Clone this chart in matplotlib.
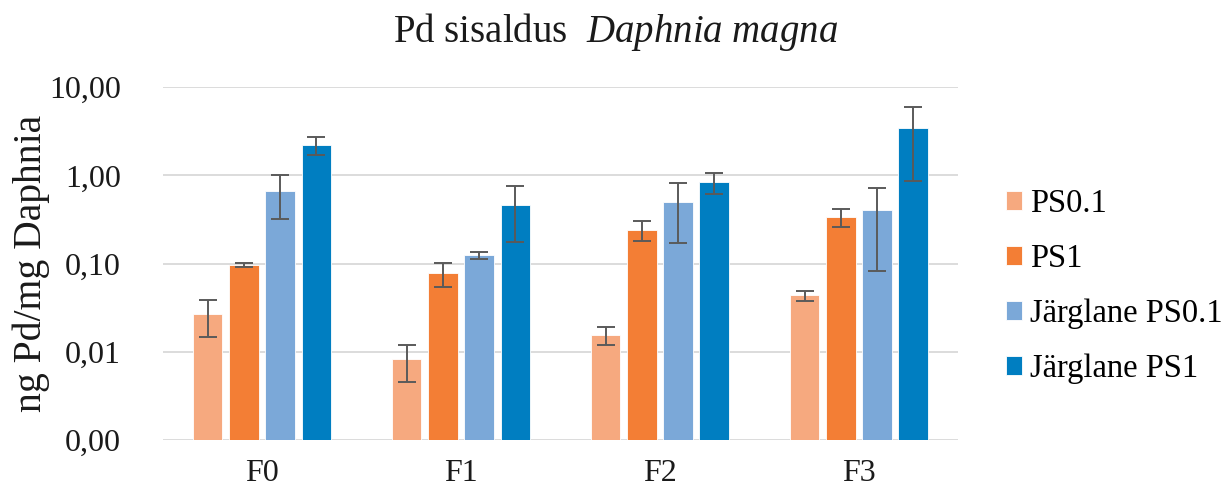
import numpy as np
import matplotlib.pyplot as plt
from matplotlib.ticker import FixedLocator, NullLocator

plt.rcParams['font.family'] = ['Liberation Serif', 'DejaVu Serif']
plt.rcParams['mathtext.fontset'] = 'custom'
plt.rcParams['mathtext.rm'] = 'Liberation Serif'
plt.rcParams['mathtext.it'] = 'Liberation Serif:italic'

# Data (ng Pd / mg Daphnia)
groups = ["F0", "F1", "F2", "F3"]
series = ["PS0.1", "PS1", "Järglane PS0.1", "Järglane PS1"]
ps01 = [0.0266, 0.0082, 0.0156, 0.0437]
ps1 = [0.097, 0.078, 0.243, 0.337]
j_ps01 = [0.665, 0.124, 0.50, 0.402]
j_ps1 = [2.23, 0.465, 0.849, 3.42]
ps01_sd = [0.012, 0.0037, 0.0036, 0.0055]
ps1_sd = [0.006, 0.023, 0.063, 0.078]
j_ps01_sd = [0.34, 0.011, 0.33, 0.32]
j_ps1_sd = [0.51, 0.29, 0.225, 2.55]

yticks = [0.001, 0.01, 0.1, 1, 10]
ytick_labels = ["0,00", "0,01", "0,10", "1,00", "10,00"]

values = [ps01, ps1, j_ps01, j_ps1]
errors = [ps01_sd, ps1_sd, j_ps01_sd, j_ps1_sd]
colors = ["#F6A97F", "#F37E35", "#7BA8D8", "#007EC1"]

fig = plt.figure(figsize=(12.32, 4.93), dpi=100)
ax = fig.add_axes([0.1319, 0.1075, 0.6461, 0.7154])

x = np.arange(len(groups))
pitch = 0.181
width = 0.146
for j in range(4):
    ax.bar(x + (j - 1.5) * pitch, values[j], width, color=colors[j],
           edgecolor="white", linewidth=0.6, label=series[j], zorder=3,
           yerr=errors[j], capsize=6.5,
           error_kw=dict(ecolor="#5a5a5a", elinewidth=1.4, capthick=1.4))

ax.set_yscale("log")
ax.set_ylim(0.001, 10)
ax.set_xlim(-0.5, 3.5)
ax.yaxis.set_major_locator(FixedLocator(yticks))
ax.yaxis.set_minor_locator(NullLocator())
ax.set_yticks(yticks)
ax.set_yticklabels(ytick_labels)
ax.set_xticks(x)
ax.set_xticklabels(groups)
ax.tick_params(axis="both", length=0, labelsize=23, colors="#1a1a1a")
ax.tick_params(axis="y", pad=30)
ax.tick_params(axis="x", pad=14)
ax.grid(axis="y", color="#d9d9d9", linewidth=1.3, zorder=0)
for s in ax.spines.values():
    s.set_visible(False)

ax.set_ylabel("ng Pd/mg Daphnia", fontsize=28.5, color="#1a1a1a")
ax.yaxis.set_label_coords(-0.1413, 0.5)

fig.text(0.5, 0.915, r"Pd sisaldus  $\mathit{Daphnia\ magna}$", ha="center",
         va="baseline", fontsize=28, color="#1a1a1a")

ax.legend(loc="center left", bbox_to_anchor=(1005.7 / 1232, 0.419),
          bbox_transform=fig.transFigure, frameon=False, fontsize=23.5,
          handlelength=0.5, handleheight=0.5, handletextpad=0.25,
          labelspacing=0.75, borderpad=0, borderaxespad=0)

plt.savefig("out.png", dpi=100)
